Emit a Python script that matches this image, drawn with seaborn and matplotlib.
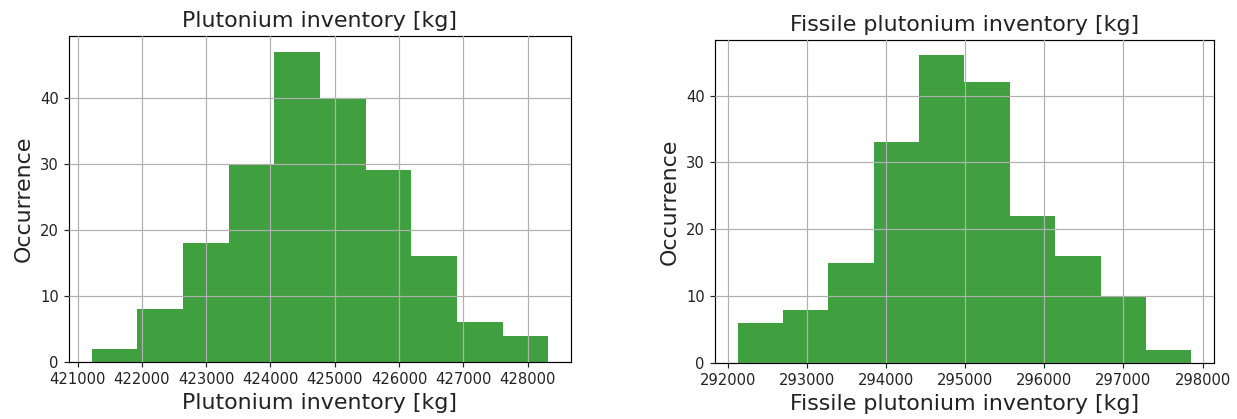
import numpy as np
import pandas as pd
import matplotlib
matplotlib.use("Agg")
import matplotlib.pyplot as plt
import seaborn as sns

# Plutonium inventory histogram (10 bins)
pu_lo, pu_hi = 421222, 428319
pu_counts = [2, 8, 18, 30, 47, 40, 29, 16, 6, 4]

# Fissile plutonium inventory histogram (10 bins)
fis_lo, fis_hi = 292119, 297858
fis_counts = [6, 8, 15, 33, 46, 42, 22, 16, 10, 2]

titles = ["Plutonium inventory [kg]", "Fissile plutonium inventory [kg]"]

plt.rcParams["font.family"] = ["DejaVu Sans"]

DPI = 106
W, H = 1237, 419
fig = plt.figure(figsize=(W / DPI, H / DPI), dpi=DPI)
ax1 = fig.add_axes([69 / W, 1 - 362 / H, (571 - 69) / W, (362 - 36) / H])
ax2 = fig.add_axes([715 / W, 1 - 363 / H, (1214 - 715) / W, (363 - 40) / H])

for ax, lo, hi, counts, title, xticks in [
    (ax1, pu_lo, pu_hi, pu_counts, titles[0], range(421000, 428001, 1000)),
    (ax2, fis_lo, fis_hi, fis_counts, titles[1], range(292000, 298001, 1000)),
]:
    edges = np.linspace(lo, hi, len(counts) + 1)
    df = pd.DataFrame({"value": (edges[:-1] + edges[1:]) / 2, "count": counts})
    sns.histplot(data=df, x="value", weights="count", bins=list(edges), color="green",
                 alpha=0.75, linewidth=0, ax=ax)
    ax.grid(True, color="#b0b0b0", linewidth=0.8)
    ax.set_axisbelow(False)
    ax.set_xticks(list(xticks))
    ax.set_yticks([0, 10, 20, 30, 40])
    ax.tick_params(labelsize=10, colors="#222222", labelcolor="#222222")
    ax.set_title(title, fontsize=15, color="#222222")
    ax.set_xlabel(title, fontsize=15, color="#222222")
    ax.set_ylabel("Occurrence", fontsize=15, color="#222222")
    ax.set_ylim(0, max(counts) * 1.05)
    ax.margins(x=0.05)

fig.savefig("out.png", dpi=DPI)
